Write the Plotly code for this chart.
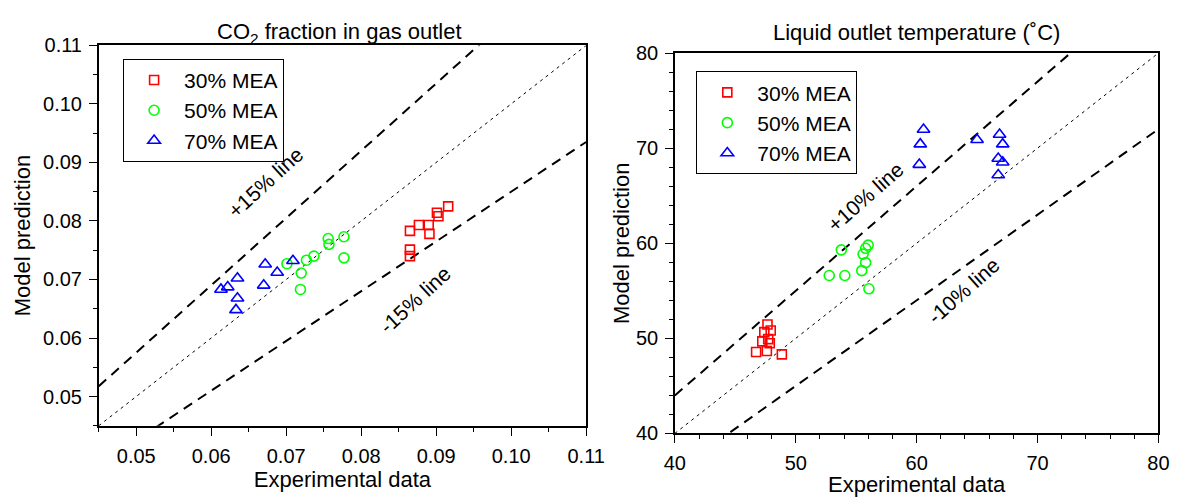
import plotly.graph_objects as go

# ---- data: CO2 fraction in gas outlet (left) ----
co2_30_exp = [0.0916, 0.0901, 0.0903, 0.0877, 0.0890, 0.0865, 0.0891, 0.0865, 0.0865]
co2_30_mod = [0.0825, 0.0814, 0.0808, 0.0793, 0.0793, 0.0783, 0.0778, 0.0751, 0.0740]
co2_50_exp = [0.0756, 0.0777, 0.0757, 0.0737, 0.0727, 0.0701, 0.0720, 0.0777, 0.0719]
co2_50_mod = [0.0770, 0.0773, 0.0760, 0.0740, 0.0733, 0.0727, 0.0711, 0.0737, 0.0683]
co2_70_exp = [0.0709, 0.0672, 0.0688, 0.0635, 0.0622, 0.0613, 0.0670, 0.0635, 0.0633]
co2_70_mod = [0.0732, 0.0726, 0.0712, 0.0702, 0.0687, 0.0683, 0.0690, 0.0668, 0.0648]

# ---- data: liquid outlet temperature (right) ----
t_30_exp = [47.66, 47.93, 47.40, 47.72, 47.23, 47.85, 47.61, 46.72, 48.85]
t_30_mod = [51.46, 50.82, 50.65, 49.92, 49.68, 49.48, 48.67, 48.57, 48.31]
t_50_exp = [53.77, 55.99, 55.78, 55.57, 55.78, 55.46, 52.77, 54.06, 56.05]
t_50_mod = [59.30, 59.80, 59.47, 58.86, 57.96, 57.12, 56.61, 56.61, 55.21]
t_70_exp = [60.57, 60.30, 60.22, 65.00, 66.86, 67.12, 66.75, 67.12, 66.75]
t_70_mod = [71.96, 70.42, 68.27, 70.88, 71.43, 70.42, 68.91, 68.51, 67.17]

series_names = ["30% MEA", "50% MEA", "70% MEA"]
left_range = [0.045, 0.11]
right_range = [40, 80]
left_ticks = [0.05, 0.06, 0.07, 0.08, 0.09, 0.10, 0.11]
left_ticklabels = ["0.05", "0.06", "0.07", "0.08", "0.09", "0.10", "0.11"]
right_ticks = [40, 50, 60, 70, 80]
left_factor = 0.15
right_factor = 0.10

FONT = "Liberation Sans, Arial, Helvetica, sans-serif"
colors = ["#FF0000", "#00FF00", "#0000FF"]
symbols = ["square-open", "circle-open", "triangle-up-open"]
sizes = [9, 10, 11]

fig = go.Figure()

def add_lines(xr, factor, xa, ya):
    xs = list(xr)
    fig.add_trace(go.Scatter(x=xs, y=xs, mode="lines", xaxis=xa, yaxis=ya,
                             line=dict(color="black", width=1, dash="3px,4px"),
                             showlegend=False, hoverinfo="skip"))
    for f in (1 + factor, 1 - factor):
        fig.add_trace(go.Scatter(x=xs, y=[v * f for v in xs], mode="lines", xaxis=xa, yaxis=ya,
                                 line=dict(color="black", width=2, dash="10px,7px"),
                                 showlegend=False, hoverinfo="skip"))

add_lines(left_range, left_factor, "x", "y")
add_lines(right_range, right_factor, "x2", "y2")

left_data = [(co2_30_exp, co2_30_mod), (co2_50_exp, co2_50_mod), (co2_70_exp, co2_70_mod)]
right_data = [(t_30_exp, t_30_mod), (t_50_exp, t_50_mod), (t_70_exp, t_70_mod)]

for i, (xe, ym) in enumerate(left_data):
    fig.add_trace(go.Scatter(x=xe, y=ym, mode="markers", name=series_names[i],
                             xaxis="x", yaxis="y", legend="legend",
                             marker=dict(symbol=symbols[i], size=sizes[i], color=colors[i],
                                         line=dict(width=1.6, color=colors[i]))))
for i, (xe, ym) in enumerate(right_data):
    fig.add_trace(go.Scatter(x=xe, y=ym, mode="markers", name=series_names[i],
                             xaxis="x2", yaxis="y2", legend="legend2",
                             marker=dict(symbol=symbols[i], size=sizes[i], color=colors[i],
                                         line=dict(width=1.6, color=colors[i]))))

W, H = 1193, 497
def dom_x(a, b):
    return [a / W, b / W]
def dom_y(top, bottom):
    return [1 - bottom / H, 1 - top / H]

axis_common = dict(showline=True, linecolor="black", linewidth=1.5, mirror=True,
                   ticks="outside", ticklen=8, tickcolor="black", tickwidth=1.2,
                   showgrid=False, zeroline=False, ticklabelstandoff=3,
                   tickfont=dict(family=FONT, size=20, color="black"),
                   title_font=dict(family=FONT, size=22, color="black"),
                   minor=dict(ticks="outside", ticklen=4, tickcolor="black", tickwidth=1.2))

legend_common = dict(xanchor="left", yanchor="top", bordercolor="black", borderwidth=1,
                     bgcolor="white", font=dict(family=FONT, size=21, color="black"),
                     itemwidth=50, tracegroupgap=0)

fig.update_layout(
    width=W, height=H, margin=dict(l=0, r=0, t=0, b=0),
    paper_bgcolor="white", plot_bgcolor="white",
    font=dict(family=FONT, color="black"),
    xaxis=dict(domain=dom_x(90, 590), range=left_range, tickvals=left_ticks,
               ticktext=left_ticklabels, title=dict(text="Experimental data", standoff=6),
               anchor="y", **axis_common),
    yaxis=dict(domain=dom_y(36, 434), range=left_range, tickvals=left_ticks,
               ticktext=left_ticklabels, title=dict(text="Model prediction", standoff=6),
               anchor="x", **axis_common),
    xaxis2=dict(domain=dom_x(681, 1177), range=right_range, tickvals=right_ticks,
                title=dict(text="Experimental data", standoff=6), anchor="y2", **axis_common),
    yaxis2=dict(domain=dom_y(44, 442), range=right_range, tickvals=right_ticks,
                title=dict(text="Model prediction", standoff=0), anchor="x2", **axis_common),
    legend=dict(x=115 / W, y=1 - 50 / H, **legend_common),
    legend2=dict(x=703 / W, y=1 - 63 / H, **legend_common),
    annotations=[
        dict(text="CO<sub>2</sub> fraction in gas outlet", x=337 / W, y=1 - 23 / H,
             xref="paper", yref="paper", xanchor="center", yanchor="middle", showarrow=False,
             font=dict(family=FONT, size=22, color="black")),
        dict(text="Liquid outlet temperature (˚C)", x=929 / W, y=1 - 23 / H,
             xref="paper", yref="paper", xanchor="center", yanchor="middle", showarrow=False,
             font=dict(family=FONT, size=22, color="black")),
        dict(text="+15% line", x=0.0672, y=0.0866, xref="x", yref="y", showarrow=False,
             textangle=-42.5, font=dict(family=FONT, size=21, color="black")),
        dict(text="-15% line", x=0.0872, y=0.0666, xref="x", yref="y", showarrow=False,
             textangle=-42.5, font=dict(family=FONT, size=21, color="black")),
        dict(text="+10% line", x=55.8, y=64.9, xref="x2", yref="y2", showarrow=False,
             textangle=-41.4, font=dict(family=FONT, size=21, color="black")),
        dict(text="-10% line", x=63.9, y=55.0, xref="x2", yref="y2", showarrow=False,
             textangle=-41.4, font=dict(family=FONT, size=21, color="black")),
    ],
)

fig.write_html("out.html")
